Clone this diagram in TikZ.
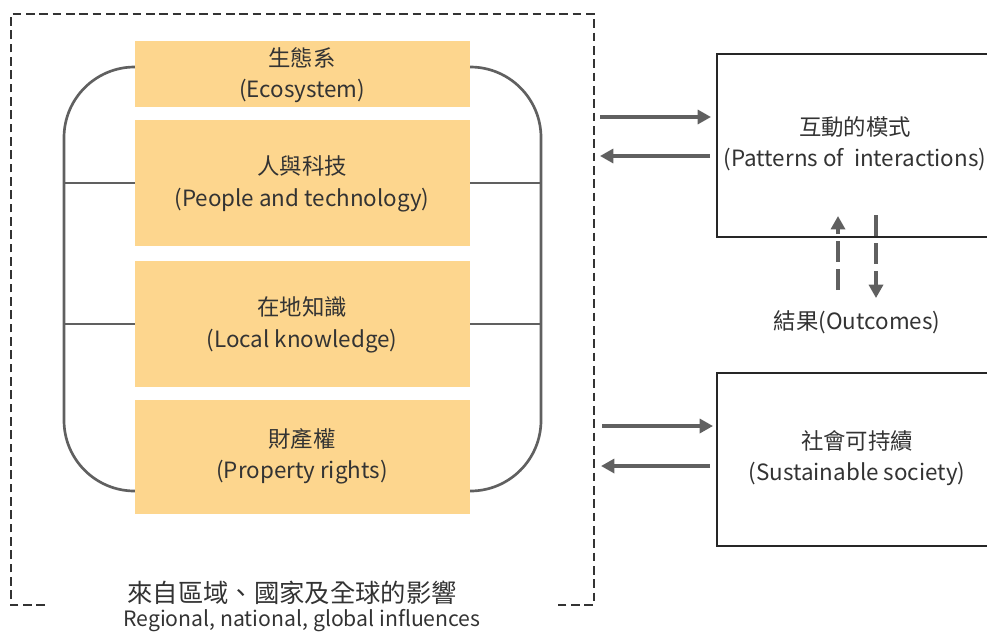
\documentclass[tikz,border=0pt]{standalone}
\usepackage{fontspec}
\setmainfont{Noto Sans CJK TC}
\usetikzlibrary{arrows.meta,fit}
\definecolor{boxfill}{HTML}{FDD68E}
\definecolor{linegray}{HTML}{606060}
\definecolor{txt}{HTML}{333333}
\begin{document}
\begin{tikzpicture}[x=0.75pt,y=-0.75pt,
  fs/.style={font=\fontsize{16.8}{23.5}\selectfont},
  ybox/.style={fill=boxfill, draw=none, inner sep=0pt},
  rbox/.style={draw=black!85, line width=1pt, inner sep=0pt},
  lbl/.style={text=txt, align=center, fs, inner sep=0pt},
  arr/.style={draw=linegray, line width=2.4pt, -{Triangle[length=10pt,width=10.5pt]}},
  darr/.style={arr, dash pattern=on 16pt off 5pt},
  framestyle/.style={draw=black!80, line width=2pt, dash pattern=on 6.5pt off 3.5pt},
  ring/.style={draw=linegray, line width=2pt}
]
\clip (0,0) rectangle (987,633);
% outer dashed frame
\draw[framestyle] (45,605) -- (11,605) -- (11,14) -- (594,14) -- (594,605) -- (557,605);
% rounded ring and cross lines
\draw[ring, rounded corners=53pt] (64,67) rectangle (541,491);
\draw[ring] (64,183) -- (541,183);
\draw[ring] (64,324) -- (541,324);
% yellow boxes
\node[ybox, fit={(135,41)(470,107)}] (eco) {};
\node[ybox, fit={(135,120)(470,246)}] (ppl) {};
\node[ybox, fit={(135,261)(470,387)}] (loc) {};
\node[ybox, fit={(135,400)(470,514)}] (prop) {};
\node[lbl] (ecotxt) at (302,75) {生態系\\(Ecosystem)};
\node[lbl] (ppltxt) at (302,184) {人與科技\\(People and technology)};
\node[lbl] (loctxt) at (302,325) {在地知識\\(Local knowledge)};
\node[lbl] (proptxt) at (302,456) {財產權\\(Property rights)};
% bottom label
\node[lbl, font=\fontsize{19}{20}\selectfont] (inflzh) at (292,593) {來自區域、國家及全球的影響};
\node[lbl, font=\fontsize{15.9}{20}\selectfont] (inflen) at (302,621) {Regional, national, global influences};
% right boxes
\node[rbox, fit={(717,54)(993,237)}] (pat) {};
\node[lbl] (pattxt) at (855,144) {互動的模式\\(Patterns of\ \ interactions)};
\node[rbox, fit={(717,373)(997,546)}] (soc) {};
\node[lbl] (soctxt) at (857,458) {社會可持續\\(Sustainable society)};
\node[lbl] (out) at (857,322) {結果(Outcomes)};
% horizontal arrows
\coordinate (a1s) at (600,117); \coordinate (a1e) at (711,117);
\coordinate (a2s) at (710,156); \coordinate (a2e) at (600,156);
\coordinate (b1s) at (602,426); \coordinate (b1e) at (713,426);
\coordinate (b2s) at (710,466); \coordinate (b2e) at (601,466);
\draw[arr] (a1s) -- (a1e);
\draw[arr] (a2s) -- (a2e);
\draw[arr] (b1s) -- (b1e);
\draw[arr] (b2s) -- (b2e);
% vertical dashed arrows
\coordinate (u1s) at (838,290); \coordinate (u1e) at (838,216);
\coordinate (d1s) at (876,215); \coordinate (d1e) at (876,298);
\draw[darr] (u1s) -- (u1e);
\draw[darr] (d1s) -- (d1e);
\end{tikzpicture}
\end{document}
